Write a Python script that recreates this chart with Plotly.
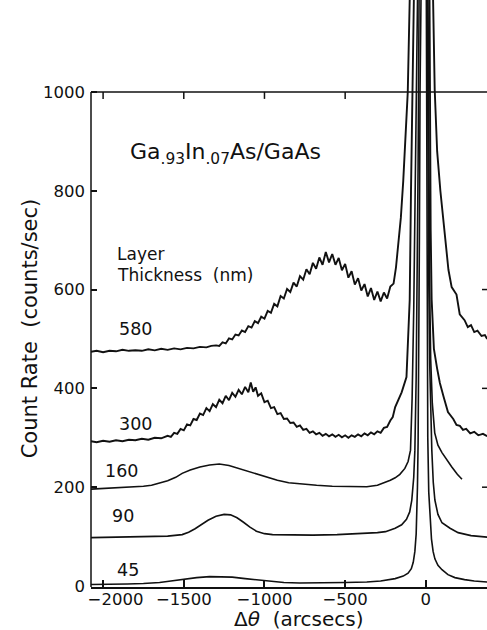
import plotly.graph_objects as go

# ---- data ----
thickness_labels = ["580", "300", "160", "90", "45"]

curve_580 = [(-2075, 474), (-2040, 476), (-2000, 473), (-1960, 476), (-1920, 475), (-1880, 478),
             (-1840, 476), (-1800, 477), (-1760, 476), (-1720, 479), (-1680, 477), (-1640, 480),
             (-1600, 478), (-1560, 481), (-1520, 479), (-1480, 482), (-1440, 481), (-1400, 484),
             (-1360, 483), (-1330, 486), (-1300, 487), (-1280, 486), (-1260, 493), (-1240, 491),
             (-1220, 501), (-1200, 499), (-1180, 509), (-1160, 507), (-1140, 517), (-1120, 514),
             (-1100, 526), (-1080, 523), (-1060, 536), (-1040, 532), (-1020, 545), (-1000, 541),
             (-980, 557), (-960, 553), (-940, 571), (-920, 566), (-900, 587), (-880, 582),
             (-860, 601), (-840, 595), (-820, 614), (-800, 606), (-780, 627), (-760, 620),
             (-740, 641), (-720, 631), (-700, 654), (-680, 642), (-660, 665), (-640, 650),
             (-620, 676), (-600, 655), (-580, 672), (-560, 650), (-540, 664), (-520, 639),
             (-500, 652), (-480, 624), (-460, 637), (-440, 610), (-420, 623), (-400, 598),
             (-380, 611), (-360, 586), (-340, 603), (-320, 579), (-300, 596), (-280, 576),
             (-260, 594), (-240, 582), (-220, 606), (-200, 612), (-185, 645), (-170, 690),
             (-155, 745), (-140, 820), (-125, 910), (-112, 1000), (-100, 1186), (-80, 1500),
             (40, 1500), (45, 1186), (55, 1004), (70, 880), (90, 800), (110, 730), (125, 690),
             (140, 640), (160, 605), (190, 590), (210, 550), (240, 538), (260, 524), (280, 528),
             (300, 514), (320, 517), (345, 506), (366, 508), (380, 500)]

curve_300 = [(-2075, 293), (-2040, 291), (-2000, 294), (-1960, 292), (-1920, 295), (-1880, 293),
             (-1840, 296), (-1800, 295), (-1760, 298), (-1720, 296), (-1680, 300), (-1640, 299),
             (-1600, 304), (-1580, 302), (-1560, 310), (-1540, 308), (-1520, 318), (-1500, 315),
             (-1480, 327), (-1460, 325), (-1440, 338), (-1420, 336), (-1400, 349), (-1380, 346),
             (-1360, 360), (-1340, 354), (-1320, 368), (-1300, 362), (-1280, 377), (-1260, 370),
             (-1240, 385), (-1220, 376), (-1200, 391), (-1180, 383), (-1160, 397), (-1140, 388),
             (-1120, 403), (-1100, 392), (-1085, 412), (-1070, 393), (-1055, 402), (-1040, 385),
             (-1020, 390), (-1000, 372), (-980, 375), (-960, 360), (-940, 362), (-920, 348),
             (-900, 350), (-880, 338), (-860, 339), (-840, 330), (-820, 331), (-800, 322),
             (-780, 325), (-760, 316), (-740, 318), (-720, 310), (-700, 313), (-680, 307),
             (-660, 310), (-640, 304), (-620, 308), (-600, 303), (-580, 307), (-560, 302),
             (-540, 306), (-520, 301), (-500, 305), (-480, 300), (-460, 305), (-440, 302),
             (-420, 307), (-400, 303), (-380, 309), (-360, 305), (-340, 311), (-320, 307),
             (-300, 313), (-280, 310), (-260, 320), (-240, 322), (-220, 335), (-205, 342),
             (-190, 362), (-170, 378), (-150, 392), (-120, 423), (-110, 512), (-100, 579),
             (-92, 800), (-86, 1000), (-81, 1186), (-60, 1500), (18, 1500), (22, 1186),
             (26, 900), (30, 720), (36, 580), (50, 480), (70, 440), (87, 411), (110, 383),
             (137, 352), (170, 338), (190, 326), (211, 324), (230, 316), (250, 318), (275, 309),
             (300, 312), (325, 305), (354, 308), (380, 303)]

curve_160 = [(-2075, 196), (-1950, 198), (-1850, 200), (-1750, 202), (-1700, 204), (-1650, 208),
             (-1600, 213), (-1550, 220), (-1510, 228), (-1460, 235), (-1400, 241), (-1340, 245),
             (-1280, 247), (-1220, 244), (-1150, 237), (-1080, 229), (-1000, 222), (-920, 214),
             (-850, 209), (-770, 206), (-677, 204), (-580, 202), (-480, 201), (-366, 201),
             (-300, 204), (-267, 208), (-220, 214), (-190, 219), (-161, 226), (-130, 238),
             (-110, 252), (-95, 275), (-85, 380), (-75, 560), (-65, 820), (-55, 1186),
             (-40, 1500), (8, 1500), (12, 1186), (18, 850), (24, 600), (30, 460), (40, 370),
             (55, 310), (75, 285), (100, 270), (130, 255), (161, 241), (195, 226), (224, 216)]

curve_90 = [(-2075, 98), (-1950, 99), (-1800, 100), (-1700, 101), (-1600, 101), (-1510, 104),
            (-1470, 109), (-1430, 116), (-1390, 124), (-1350, 133), (-1300, 141), (-1250, 145),
            (-1210, 144), (-1170, 138), (-1130, 129), (-1090, 119), (-1050, 111), (-1000, 106),
            (-950, 104), (-850, 103), (-700, 103), (-550, 104), (-400, 106), (-300, 108),
            (-250, 110), (-190, 117), (-150, 124), (-120, 135), (-100, 150), (-87, 174),
            (-75, 220), (-68, 275), (-60, 420), (-54, 600), (-48, 850), (-42, 1186), (-30, 1500),
            (4, 1500), (8, 1186), (12, 900), (17, 650), (24, 450), (30, 340), (37, 275),
            (46, 210), (56, 174), (75, 145), (100, 128), (150, 117), (200, 108), (280, 102),
            (366, 99), (380, 99)]

curve_45 = [(-2075, 3), (-1950, 3), (-1850, 4), (-1750, 5), (-1650, 7), (-1580, 10), (-1500, 14),
            (-1420, 17), (-1340, 19), (-1280, 19), (-1200, 18), (-1120, 15), (-1040, 12),
            (-960, 9), (-880, 7), (-783, 6), (-650, 6), (-500, 7), (-366, 8), (-280, 10),
            (-190, 15), (-140, 20), (-110, 26), (-90, 35), (-78, 48), (-68, 70), (-60, 105),
            (-56, 140), (-52, 200), (-48, 290), (-44, 450), (-40, 700), (-36, 1000), (-33, 1186),
            (-20, 1500), (0, 1500), (3, 1186), (6, 850), (9, 550), (12, 300), (18, 190),
            (25, 140), (35, 95), (45, 70), (56, 55), (75, 42), (100, 33), (137, 23), (180, 17),
            (240, 13), (300, 10), (380, 8)]

curves = [curve_580, curve_300, curve_160, curve_90, curve_45]
curve_widths = [1.9, 1.9, 1.6, 1.6, 1.6]

x_ticks = [-2000, -1500, -1000, -500, 0]
x_tick_text = ["\u2002\u2002\u2002\u22122000", "\u22121500", "\u22121000", "\u2212500", "0"]
top_ticks = [-2000, -1500, -1000, -500]
y_ticks = [0, 200, 400, 600, 800, 1000]
right_ticks = [200, 400, 600]
frame_top = 1000

X_RANGE = [-2075, 379]
Y_RANGE = [-2, 1186]
FONT = "DejaVu Sans"
INK = "#111111"

fig = go.Figure()
for lab, c, w in zip(thickness_labels, curves, curve_widths):
    xs = [p[0] for p in c]
    ys = [p[1] for p in c]
    fig.add_trace(go.Scatter(x=xs, y=ys, mode="lines", name=lab,
                             line=dict(color=INK, width=w),
                             showlegend=False, hoverinfo="skip"))

# thickness labels
label_pos = {"580": (-1914, 520), "300": (-1914, 327), "160": (-2001, 232),
             "90": (-1957, 141), "45": (-1926, 33)}
for lab in thickness_labels:
    lx, ly = label_pos[lab]
    fig.add_annotation(x=lx, y=ly, xref="x", yref="y", text=lab, showarrow=False,
                       xanchor="left", yanchor="middle",
                       font=dict(family=FONT, size=17.5, color=INK))

fig.add_annotation(x=-1846, y=876, xref="x", yref="y",
                   text="Ga<sub>.93</sub>In<sub>.07</sub>As/GaAs", showarrow=False,
                   xanchor="left", yanchor="middle",
                   font=dict(family=FONT, size=22, color=INK))
fig.add_annotation(x=-1926, y=672, xref="x", yref="y", text="Layer", showarrow=False,
                   xanchor="left", yanchor="middle",
                   font=dict(family=FONT, size=17, color=INK))
fig.add_annotation(x=-1926, y=630, xref="x", yref="y", text="Thickness&nbsp;&nbsp;(nm)",
                   showarrow=False, xanchor="left", yanchor="middle",
                   font=dict(family=FONT, size=17, color=INK))

# axis titles
fig.add_annotation(x=-0.155, y=0.44, xref="paper", yref="paper",
                   text="Count Rate&nbsp;&nbsp;(counts/sec)", textangle=-90, showarrow=False,
                   xanchor="center", yanchor="middle",
                   font=dict(family=FONT, size=21, color=INK))
fig.add_annotation(x=-792, y=-0.055, xref="x", yref="paper",
                   text="\u0394<i>\u03b8</i>&nbsp;&nbsp;(arcsecs)", showarrow=False,
                   xanchor="center", yanchor="middle",
                   font=dict(family=FONT, size=20, color=INK))

# frame: left spine only up to the frame top, and the top line at 1000
fig.add_shape(type="line", xref="paper", yref="y", x0=0, x1=0, y0=Y_RANGE[0], y1=frame_top,
              line=dict(color=INK, width=1.5))
fig.add_shape(type="line", xref="paper", yref="y", x0=0, x1=1, y0=frame_top, y1=frame_top,
              line=dict(color=INK, width=1.5))

units_per_px = (Y_RANGE[1] - Y_RANGE[0]) / (630 - 43)
for t in top_ticks:
    fig.add_shape(type="line", xref="x", yref="y", x0=t, x1=t,
                  y0=frame_top, y1=frame_top - 7 * units_per_px,
                  line=dict(color=INK, width=1.5))
for t in right_ticks:
    fig.add_shape(type="line", xref="paper", yref="y", x0=1 - 5 / 396, x1=1,
                  y0=t, y1=t, line=dict(color=INK, width=1.5))

fig.update_layout(
    width=487, height=630,
    margin=dict(l=91, r=0, t=0, b=43),
    paper_bgcolor="white", plot_bgcolor="white",
    xaxis=dict(range=X_RANGE, tickvals=x_ticks, ticktext=x_tick_text,
               ticks="inside", ticklen=7, tickwidth=1.5, tickcolor=INK,
               showline=True, linecolor=INK, linewidth=1.5,
               showgrid=False, zeroline=False, ticklabelstandoff=-4,
               tickfont=dict(family=FONT, size=16.5, color=INK)),
    yaxis=dict(range=Y_RANGE, tickvals=y_ticks, ticks="inside", ticklen=6, tickwidth=1.5,
               tickcolor=INK, showline=False, showgrid=False, zeroline=False,
               ticklabelstandoff=5,
               tickfont=dict(family=FONT, size=16.5, color=INK)),
)

fig.write_html("out.html", config={"displayModeBar": False},
               post_script="document.body.style.margin='0px';")
